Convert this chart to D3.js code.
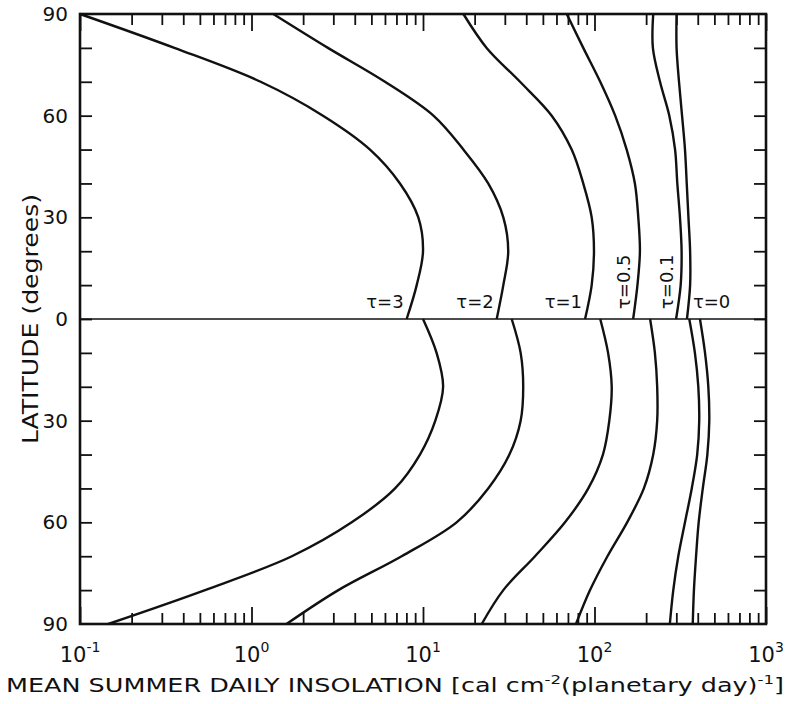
<!DOCTYPE html>
<html>
<head>
<meta charset="utf-8">
<script src="https://cdn.jsdelivr.net/npm/d3@7"></script>
<style>
  body { margin: 0; background: #fff; }
  text { font-family: "DejaVu Sans", sans-serif; fill: #111; }
</style>
</head>
<body>
<div id="chart"></div>
<script>
// latitudes (north positive, south negative)
const latNorth = [90, 80, 70, 60, 50, 40, 30, 20, 10, 0];
const latSouth = [0, -10, -20, -30, -40, -50, -60, -70, -80, -90];

// mean summer daily insolation, cal cm^-2 (planetary day)^-1
const tau3North = [0.1, 0.355, 1.13, 2.61, 4.91, 7.34, 9.39, 10.0, 9.19, 8.03];
const tau3South = [10.0, 12.0, 13.1, 11.8, 9.6, 6.87, 3.84, 1.72, 0.536, 0.146];
const tau2North = [1.34, 2.79, 6.0, 11.5, 17.2, 24.0, 29.4, 31.4, 29.4, 26.9];
const tau2South = [32.9, 37.1, 38.4, 37.1, 31.9, 24.0, 15.7, 7.51, 3.21, 1.60];
const tau1North = [17.2, 23.5, 36.8, 56.3, 73.6, 86.0, 96.3, 99.3, 96.3, 88.1];
const tau1South = [108, 120, 126, 122, 112, 92, 67.3, 45.0, 29.4, 22.0];
const tau05North = [68.9, 86.0, 108, 132, 154, 172, 180, 184, 178, 168];
const tau05South = [211, 225, 232, 232, 220, 194, 155, 119, 94.2, 78.0];
const tau01North = [220, 219, 241, 273, 295, 304, 315, 322, 318, 299];
const tau01South = [357, 385, 403, 408, 397, 369, 337, 308, 288, 275];
const tau0North = [301, 301, 311, 324, 337, 345, 353, 361, 361, 346];
const tau0South = [412, 441, 461, 467, 455, 428, 405, 391, 380, 374];

const tauNames = ["3", "2", "1", "0.5", "0.1", "0"];
const northSeries = [tau3North, tau2North, tau1North, tau05North, tau01North, tau0North];
const southSeries = [tau3South, tau2South, tau1South, tau05South, tau01South, tau0South];

const xTickExponents = [-1, 0, 1, 2, 3];
const yTickLabels = [90, 60, 30, 0, -30, -60, -90];

const W = 790, H = 704;
const margin = {top: 14, right: 24, bottom: 80, left: 80};

const svg = d3.select("#chart").append("svg")
    .attr("width", W)
    .attr("height", H);

const x = d3.scaleLog()
    .domain([0.1, 1000])
    .range([margin.left, W - margin.right]);

const y = d3.scaleLinear()
    .domain([90, -90])
    .range([margin.top, H - margin.bottom]);

// minor + major ticks
const majorX = xTickExponents.map(e => Math.pow(10, e));
const minorX = [];
for (let e = -1; e < 3; e++) {
    for (let m = 2; m <= 9; m++) minorX.push(m * Math.pow(10, e));
}
const yTicks = d3.range(-80, 90, 10);

function tickAxis(axis, vals, size) {
    return axis.tickValues(vals).tickSize(size).tickSizeOuter(0).tickFormat("");
}

const g = svg.append("g");

g.append("g")
    .attr("transform", `translate(0,${y(-90)})`)
    .call(tickAxis(d3.axisBottom(x), minorX, -11));
g.append("g")
    .attr("transform", `translate(0,${y(-90)})`)
    .call(tickAxis(d3.axisBottom(x), majorX, -17));
g.append("g")
    .attr("transform", `translate(0,${y(90)})`)
    .call(tickAxis(d3.axisTop(x), minorX, -11));
g.append("g")
    .attr("transform", `translate(0,${y(90)})`)
    .call(tickAxis(d3.axisTop(x), majorX, -17));
g.append("g")
    .attr("transform", `translate(${x(0.1)},0)`)
    .call(tickAxis(d3.axisLeft(y), yTicks, -12));
g.append("g")
    .attr("transform", `translate(${x(1000)},0)`)
    .call(tickAxis(d3.axisRight(y), yTicks, -12));

g.selectAll(".domain").remove();
g.selectAll(".tick line").attr("stroke", "#111").attr("stroke-width", 1.8);

// frame
svg.append("rect")
    .attr("x", x(0.1))
    .attr("y", y(90))
    .attr("width", x(1000) - x(0.1))
    .attr("height", y(-90) - y(90))
    .attr("fill", "none")
    .attr("stroke", "#111")
    .attr("stroke-width", 2.6);

// equator line
svg.append("line")
    .attr("x1", x(0.1)).attr("x2", x(1000))
    .attr("y1", y(0)).attr("y2", y(0))
    .attr("stroke", "#111")
    .attr("stroke-width", 1.3);

// curves
const line = d3.line()
    .x(d => x(d[0]))
    .y(d => y(d[1]))
    .curve(d3.curveCatmullRom.alpha(0.5));

northSeries.forEach(s => {
    svg.append("path")
        .attr("d", line(s.map((v, i) => [v, latNorth[i]])))
        .attr("fill", "none").attr("stroke", "#111").attr("stroke-width", 2.4);
});
southSeries.forEach(s => {
    svg.append("path")
        .attr("d", line(s.map((v, i) => [v, latSouth[i]])))
        .attr("fill", "none").attr("stroke", "#111").attr("stroke-width", 2.4);
});

// curve labels
const labelY = y(0) - 11;
[0, 1, 2].forEach(i => {
    svg.append("text")
        .attr("x", x(northSeries[i][9]) - 3)
        .attr("y", labelY)
        .attr("text-anchor", "end")
        .attr("font-size", 18)
        .text("τ=" + tauNames[i]);
});
[3, 4].forEach(i => {
    svg.append("text")
        .attr("transform", `translate(${x(northSeries[i][9]) - 3},${labelY + 1}) rotate(-90)`)
        .attr("font-size", 18)
        .text("τ=" + tauNames[i]);
});
svg.append("text")
    .attr("x", x(tau0North[9]) + 6)
    .attr("y", labelY)
    .attr("font-size", 18)
    .text("τ=0");

// y tick labels
svg.selectAll(".ylab")
    .data(yTickLabels)
    .enter().append("text")
    .attr("x", 68)
    .attr("y", d => y(d) + 7)
    .attr("text-anchor", "end")
    .attr("font-size", 20)
    .text(d => Math.abs(d));

// x tick labels
xTickExponents.forEach(e => {
    const t = svg.append("text")
        .attr("x", x(Math.pow(10, e)))
        .attr("y", 662)
        .attr("text-anchor", "middle")
        .attr("font-size", 21);
    t.append("tspan").text("10");
    t.append("tspan").attr("dy", -10).attr("font-size", 14).text(e < 0 ? "-" + Math.abs(e) : e);
});

// axis titles
const xt = svg.append("text")
    .attr("x", 6)
    .attr("y", 692)
    .attr("font-size", 20)
    .attr("textLength", 778)
    .attr("lengthAdjust", "spacingAndGlyphs");
xt.append("tspan").text("MEAN SUMMER DAILY INSOLATION [cal cm");
xt.append("tspan").attr("dy", -8).attr("font-size", 13).text("-2");
xt.append("tspan").attr("dy", 8).text("(planetary day)");
xt.append("tspan").attr("dy", -8).attr("font-size", 13).text("-1");
xt.append("tspan").attr("dy", 8).text("]");

svg.append("text")
    .attr("transform", `translate(38,${y(0)}) rotate(-90)`)
    .attr("text-anchor", "middle")
    .attr("font-size", 21)
    .attr("textLength", 250)
    .attr("lengthAdjust", "spacingAndGlyphs")
    .text("LATITUDE (degrees)");
</script>
</body>
</html>
